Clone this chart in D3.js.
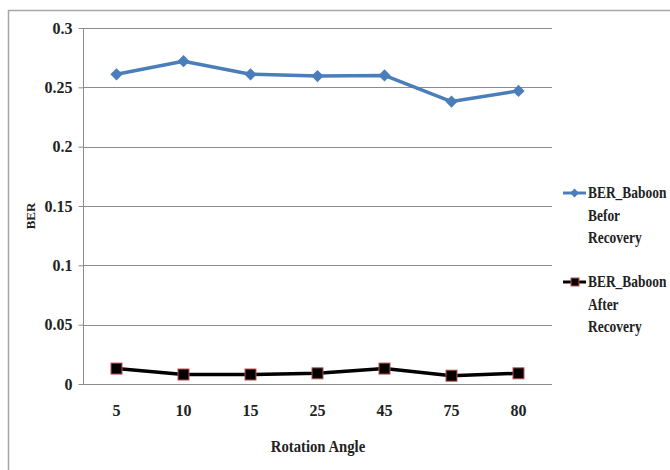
<!DOCTYPE html>
<html>
<head>
<meta charset="utf-8">
<script src="https://cdn.jsdelivr.net/npm/d3@7"></script>
<style>
  html, body { margin: 0; padding: 0; background: #fff; }
  svg { display: block; }
  text { font-family: "Liberation Serif", "DejaVu Serif", serif; font-weight: bold; fill: #222; }
</style>
</head>
<body>
<svg id="chart" width="670" height="470"></svg>
<script>
// Rotation angles (categories) and BER for the Baboon image
const angles = ["5", "10", "15", "25", "45", "75", "80"];
const berBefore = [0.261, 0.272, 0.261, 0.2595, 0.260, 0.238, 0.247];
const berAfter = [0.013, 0.008, 0.008, 0.009, 0.013, 0.007, 0.009];
const yTicks = [0, 0.05, 0.1, 0.15, 0.2, 0.25, 0.3];
const seriesNames = [["BER_Baboon", "Befor", "Recovery"], ["BER_Baboon", "After", "Recovery"]];

const svg = d3.select("#chart");
const plot = { left: 83, right: 552, top: 28, bottom: 384 };

// Outer frame (right and bottom edges fall outside the view)
svg.append("rect")
  .attr("x", 8.5).attr("y", 10.5)
  .attr("width", 700).attr("height", 500)
  .attr("fill", "none").attr("stroke", "#a6a6a6").attr("stroke-width", 1.5);

const x = d3.scaleBand().domain(angles).range([plot.left, plot.right]);
const y = d3.scaleLinear().domain([0, 0.3]).range([plot.bottom, plot.top]);

// Horizontal gridlines
svg.append("g").selectAll("line")
  .data(yTicks.filter(t => t > 0))
  .join("line")
  .attr("x1", plot.left).attr("x2", plot.right)
  .attr("y1", d => Math.round(y(d)) + 0.5).attr("y2", d => Math.round(y(d)) + 0.5)
  .attr("stroke", "#8c8c8c").attr("stroke-width", 1);

// Y axis
const yAxis = svg.append("g")
  .attr("transform", `translate(${plot.left + 0.5},0)`)
  .call(d3.axisLeft(y).tickValues(yTicks).tickSize(5).tickPadding(6)
    .tickFormat(d => d === 0 ? "0" : String(+d.toFixed(2))));
yAxis.select(".domain").attr("stroke", "#8c8c8c").attr("d", `M0,${plot.top}V${plot.bottom}`);
yAxis.selectAll(".tick line").attr("stroke", "#8c8c8c");
yAxis.selectAll(".tick text").attr("font-size", 16).attr("fill", "#222")
  .attr("font-family", "Liberation Serif").attr("font-weight", "bold");

// X axis
const xAxis = svg.append("g")
  .attr("transform", `translate(0,${plot.bottom + 0.5})`)
  .call(d3.axisBottom(x).tickSize(0).tickPadding(20));
xAxis.select(".domain").attr("stroke", "#8c8c8c").attr("d", `M${plot.left},0H${plot.right}`);
xAxis.selectAll(".tick text").attr("font-size", 16).attr("fill", "#222")
  .attr("font-family", "Liberation Serif").attr("font-weight", "bold");

// Axis titles
svg.append("text")
  .attr("transform", "translate(318,452) scale(0.92,1)")
  .attr("text-anchor", "middle").attr("font-size", 16)
  .text("Rotation Angle");
svg.append("text")
  .attr("transform", "translate(35,216) rotate(-90)")
  .attr("text-anchor", "middle").attr("font-size", 13)
  .text("BER");

const cx = d => x(d) + x.bandwidth() / 2;
const line = d3.line().x(d => cx(d[0])).y(d => y(d[1]));

// Before recovery series
const before = angles.map((a, i) => [a, berBefore[i]]);
svg.append("path").datum(before)
  .attr("d", line).attr("fill", "none")
  .attr("stroke", "#4a7ebb").attr("stroke-width", 3.5).attr("stroke-linejoin", "round");
const diamond = d3.symbol().type(d3.symbolDiamond2).size(95);
svg.append("g").selectAll("path").data(before).join("path")
  .attr("transform", d => `translate(${cx(d[0])},${y(d[1])})`)
  .attr("d", diamond).attr("fill", "#4a7ebb");

// After recovery series
const after = angles.map((a, i) => [a, berAfter[i]]);
svg.append("path").datum(after)
  .attr("d", line).attr("fill", "none")
  .attr("stroke", "#000").attr("stroke-width", 3.5).attr("stroke-linejoin", "round");
svg.append("g").selectAll("rect").data(after).join("rect")
  .attr("x", d => cx(d[0]) - 5.5).attr("y", d => y(d[1]) - 5.5)
  .attr("width", 11).attr("height", 11)
  .attr("fill", "#000").attr("stroke", "#c0504d").attr("stroke-width", 1);

// Legend
const legend = svg.append("g");
const legY = [193, 282];
legend.append("line").attr("x1", 563).attr("x2", 586).attr("y1", legY[0]).attr("y2", legY[0])
  .attr("stroke", "#4a7ebb").attr("stroke-width", 3);
legend.append("path").attr("transform", `translate(574.5,${legY[0]})`)
  .attr("d", d3.symbol().type(d3.symbolDiamond2).size(50)).attr("fill", "#4a7ebb");
legend.append("line").attr("x1", 563).attr("x2", 586).attr("y1", legY[1]).attr("y2", legY[1])
  .attr("stroke", "#000").attr("stroke-width", 3);
legend.append("rect").attr("x", 571).attr("y", legY[1] - 4).attr("width", 8).attr("height", 8)
  .attr("fill", "#000").attr("stroke", "#c0504d").attr("stroke-width", 1);

// Condensed legend labels, three lines per series
seriesNames.forEach((lines, k) => {
  lines.forEach((t, j) => {
    legend.append("text")
      .attr("transform", `translate(588,${legY[k] + 5 + j * 22.5}) scale(0.84,1)`)
      .attr("font-size", 16)
      .text(t);
  });
});
</script>
</body>
</html>
